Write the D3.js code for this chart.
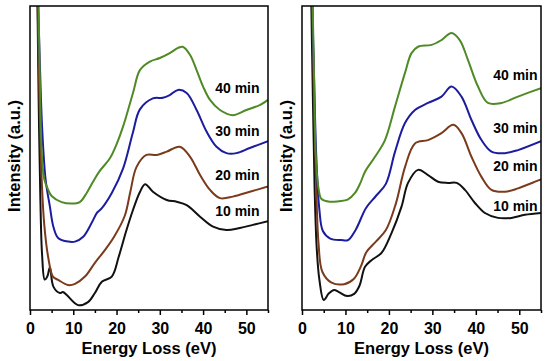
<!DOCTYPE html>
<html lang="en">
  <head>
    <meta charset="UTF-8" />
    <title>EELS spectra</title>
    <script src="https://d3js.org/d3.v7.min.js"></script>
    <style>
      body { margin: 0; background: #fff; }
      .tick text { font-family: "Liberation Sans", Arial, sans-serif; font-weight: bold; font-size: 16px; }
      .title { font-family: "Liberation Sans", Arial, sans-serif; font-weight: bold; font-size: 16.5px; }
      .lab { font-family: "Liberation Sans", Arial, sans-serif; font-weight: bold; font-size: 14px; }
    </style>
  </head>
  <body>
    <svg width="550" height="361"></svg>
    <script>
      // series: [energy loss (eV), intensity (a.u., 0-100 over the plot height)]
      const left10 = [[1.7,105],[2.0,69],[2.4,36],[2.8,18],[3.4,10],[4.0,11],[4.6,14.1],[5.4,7.7],[6.9,5.6],[7.6,5.9],[8.5,4.9],[11.1,1.6],[13.4,2.6],[15,5.6],[16.6,9.3],[18.9,11],[20.5,17.5],[22.3,26.3],[23.8,32.9],[25.4,38.8],[26.6,41.4],[28.4,38.9],[31.6,36.2],[33.9,35.6],[36.2,34.5],[39.3,30.7],[42.3,27.4],[45.4,26.3],[48.5,27],[51.5,28],[55,29.2]];
      const left20 = [[1.7,105],[2.2,69],[2.7,43],[3.3,28],[4.2,17.4],[5.3,11],[6.5,9.9],[8.8,8.2],[10.4,8.6],[12.7,11],[15,15.5],[17.3,19.7],[19.4,24],[21.9,31],[23.2,39],[24.6,47],[26.9,51],[29.3,51],[31.6,52.1],[34.6,53.7],[37,50.4],[39.3,44.4],[41.6,39.5],[43.9,36.8],[46.9,37.3],[50.8,38.9],[55,40.6]];
      const left30 = [[1.8,105],[2.3,80],[2.8,60],[3.6,43],[4.6,34],[5.4,27.4],[6.5,23.7],[8.8,22.5],[10.4,22.5],[12.3,24.1],[14.2,28.5],[15.5,32],[16.6,33.5],[18.9,38.5],[21.5,46.5],[23.8,58.5],[25.4,66],[28.4,69.6],[30.7,69.8],[32.3,70.7],[34.2,72.4],[36.2,71.4],[38.5,65.8],[40.8,58.7],[43.1,53.7],[45.4,51.6],[47.7,51.6],[50.8,53.3],[55,55.5]];
      const left40 = [[1.9,105],[2.3,75],[2.7,52],[3.3,43],[4.2,39.5],[5.0,37.5],[7.3,35.5],[9.6,35],[11.5,35.5],[13.1,38.5],[14.5,42],[16,45.5],[18.5,50],[20,54.5],[21.5,60.3],[23.8,71.4],[25.4,78.9],[27.7,81.7],[30,82.9],[32.3,84.5],[34.2,86.2],[35.3,86.6],[37,83.9],[38.5,78.9],[40,73.5],[41.6,69.1],[43.9,65.8],[46.9,64.1],[50,65.8],[53.1,67.4],[55,69.1]];

      const right10 = [[2.1,105],[2.5,70],[2.9,40],[3.4,20],[4.0,10],[5.0,3.3],[6.2,5.5],[7.4,6.6],[8.5,5.9],[10.4,4.6],[12,5.3],[13.2,7.9],[14.5,14.2],[16,16.4],[18.3,18.8],[20.6,25.3],[22.9,34],[24.4,41.8],[26.7,46.1],[29,44.4],[31.3,42.2],[33.6,41.8],[35.6,41.8],[37.5,39.5],[39.8,35.2],[42.1,31.9],[45.1,30.3],[48.2,30.3],[51.3,31.3],[55,31.9]];
      const right20 = [[2.3,105],[2.7,75],[3.2,45],[3.8,22],[4.7,12.5],[6.8,9],[9.7,8.5],[11.9,10.2],[13.6,14.5],[14.8,19],[17,22.5],[19.3,26.3],[21.6,35],[23.7,47],[26,54.8],[29,55.9],[32.1,58.2],[34.8,60.9],[36.7,58.2],[39,50.4],[41.3,43.8],[43.6,39.5],[46.7,38.9],[49.7,40],[55,43]];
      const right30 = [[2.3,105],[2.8,75],[3.3,50],[4.0,33],[4.8,26],[6.5,23.5],[9,23],[10.6,23],[12.4,26.5],[14.7,33.5],[17,37.5],[19.3,41.5],[21.4,52],[23.7,61.5],[26,65.8],[29,68.1],[32.1,70.2],[34.4,73.5],[36.7,70.2],[39,62.5],[41.3,55.9],[43.6,52.1],[46.7,51.6],[49.7,52.6],[55,55.5]];
      const right40 = [[2.4,105],[2.8,75],[3.2,50],[3.8,40],[4.5,36.5],[6.4,35.6],[8.5,35.8],[10.5,36.3],[12.2,38.5],[13.5,42],[14.5,45.5],[16.8,50.4],[19.1,55.9],[21.4,66.9],[23.7,78],[25.2,84.5],[26.7,86.6],[29.8,87.2],[32.1,88.8],[34.4,91.1],[36.3,88.8],[38.2,82.2],[40.5,73.5],[42.8,68.1],[45.9,68.1],[49.7,70.2],[55,73]];

      const seriesNames = ["10 min", "20 min", "30 min", "40 min"];
      const colors = ["#111111", "#7a3a1c", "#1c1c9e", "#4f8a26"];
      const xTicks = [0, 10, 20, 30, 40, 50];
      const xMinor = [5, 15, 25, 35, 45, 55];
      // label baselines, in the same intensity units
      const leftLabelY = [31, 42.8, 57.2, 71.4];
      const rightLabelY = [32.6, 45.6, 58.2, 75.6];

      const svg = d3.select("svg");

      function panel(id, x0, x1, series, labelY, labelE) {
        const top = 6, bottom = 310;
        const x = d3.scaleLinear().domain([0, 55]).range([x0, x1]);
        const y = d3.scaleLinear().domain([0, 100]).range([bottom, top]);
        const g = svg.append("g");

        g.append("clipPath").attr("id", id)
          .append("rect").attr("x", x0).attr("y", top)
          .attr("width", x1 - x0).attr("height", bottom - top);

        const line = d3.line()
          .x(d => x(d[0]))
          .y(d => y(d[1]))
          .curve(d3.curveCatmullRom.alpha(0.5));

        g.append("g").attr("clip-path", `url(#${id})`)
          .selectAll("path")
          .data(series)
          .enter()
          .append("path")
          .attr("d", line)
          .attr("fill", "none")
          .attr("stroke", (d, i) => colors[i])
          .attr("stroke-width", 2)
          .attr("stroke-linejoin", "round");

        // frame
        g.append("rect")
          .attr("x", x0).attr("y", top)
          .attr("width", x1 - x0).attr("height", bottom - top)
          .attr("fill", "none").attr("stroke", "#000").attr("stroke-width", 1.5);

        // bottom axis, major + minor ticks
        const ax = g.append("g").attr("transform", `translate(0,${bottom})`)
          .call(d3.axisBottom(x).tickValues(xTicks).tickSize(5).tickPadding(8));
        ax.select(".domain").remove();
        ax.selectAll(".tick line").attr("stroke-width", 1.5);

        const mn = g.append("g").attr("transform", `translate(0,${bottom})`)
          .call(d3.axisBottom(x).tickValues(xMinor).tickSize(3).tickFormat(""));
        mn.select(".domain").remove();
        mn.selectAll(".tick line").attr("stroke-width", 1.5);

        g.append("text").attr("class", "title")
          .attr("x", (x0 + x1) / 2).attr("y", 354)
          .attr("text-anchor", "middle")
          .text("Energy Loss (eV)");

        g.append("text").attr("class", "title")
          .attr("transform", `translate(${x0 - 10},${(top + bottom) / 2 - 2}) rotate(-90)`)
          .attr("text-anchor", "middle")
          .text("Intensity (a.u.)");

        g.selectAll(".lab")
          .data(seriesNames)
          .enter()
          .append("text")
          .attr("class", "lab")
          .attr("x", x(labelE))
          .attr("y", (d, i) => y(labelY[i]))
          .text(d => d);
      }

      panel("clipL", 30, 268, [left10, left20, left30, left40], leftLabelY, 42.8);
      panel("clipR", 302, 541, [right10, right20, right30, right40], rightLabelY, 44.0);
    </script>
  </body>
</html>
